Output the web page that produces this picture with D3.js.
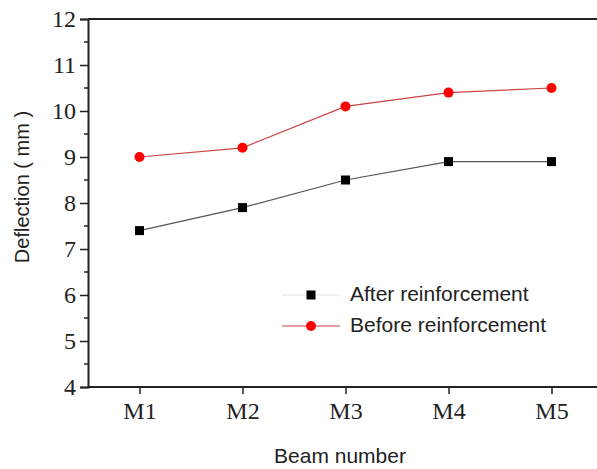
<!DOCTYPE html>
<html>
<head>
<meta charset="utf-8">
<script src="https://cdn.jsdelivr.net/npm/d3@7"></script>
<style>
  body { margin: 0; background: #fff; }
</style>
</head>
<body>
<div id="chart"></div>
<script>
// Chart values
const beams = ["M1", "M2", "M3", "M4", "M5"];
const afterValues = [7.4, 7.9, 8.5, 8.9, 8.9];
const beforeValues = [9.0, 9.2, 10.1, 10.4, 10.5];
const yTicks = [4, 5, 6, 7, 8, 9, 10, 11, 12];
const seriesNames = ["After reinforcement", "Before reinforcement"];

const W = 597, H = 469;
const margin = { top: 19, right: -6, bottom: 82, left: 88 };

const svg = d3.select("#chart")
  .append("svg")
  .attr("width", W)
  .attr("height", H);

// plot area runs a little past the right edge of the picture
const x = d3.scalePoint()
  .domain(beams)
  .range([margin.left, W - margin.right])
  .padding(0.5);

const y = d3.scaleLinear()
  .domain([4, 12])
  .range([H - margin.bottom, margin.top]);

const axisColor = "#222";

// top frame line
svg.append("line")
  .attr("x1", margin.left).attr("x2", W)
  .attr("y1", y(12)).attr("y2", y(12))
  .attr("stroke", axisColor).attr("stroke-width", 2);

// y axis
const yAxis = svg.append("g")
  .attr("transform", `translate(${margin.left},0)`)
  .call(d3.axisLeft(y).tickValues(yTicks).tickSize(8).tickPadding(4).tickFormat(d3.format("d")));

// minor ticks on y
svg.append("g")
  .selectAll("line")
  .data(yTicks.slice(0, -1).map(d => d + 0.5))
  .join("line")
  .attr("x1", margin.left - 4).attr("x2", margin.left)
  .attr("y1", d => y(d)).attr("y2", d => y(d))
  .attr("stroke", axisColor).attr("stroke-width", 1.5);

// x axis
const xAxis = svg.append("g")
  .attr("transform", `translate(0,${y(4)})`)
  .call(d3.axisBottom(x).tickSize(7).tickPadding(8).tickSizeOuter(0));

xAxis.select(".domain").attr("d", `M${margin.left},0H${W}`);

[yAxis, xAxis].forEach(g => {
  g.attr("font-family", null).attr("font-size", null);
  g.select(".domain").attr("stroke", axisColor).attr("stroke-width", 2);
  g.selectAll(".tick line").attr("stroke", axisColor).attr("stroke-width", 1.5);
  g.selectAll(".tick text")
    .attr("fill", "#222")
    .style("font-family", "'Liberation Serif', 'Times New Roman', serif")
    .style("font-size", "24px");
});

// lines
const line = d3.line()
  .x((d, i) => x(beams[i]))
  .y(d => y(d));

svg.append("path")
  .datum(beforeValues)
  .attr("fill", "none")
  .attr("stroke", "#cc4444")
  .attr("stroke-width", 1.2)
  .attr("d", line);

svg.append("path")
  .datum(afterValues)
  .attr("fill", "none")
  .attr("stroke", "#555")
  .attr("stroke-width", 1.2)
  .attr("d", line);

// markers
svg.append("g")
  .selectAll("circle")
  .data(beforeValues)
  .join("circle")
  .attr("cx", (d, i) => x(beams[i]))
  .attr("cy", d => y(d))
  .attr("r", 5)
  .attr("fill", "#ff0000");

svg.append("g")
  .selectAll("rect")
  .data(afterValues)
  .join("rect")
  .attr("x", (d, i) => x(beams[i]) - 4.5)
  .attr("y", d => y(d) - 4.5)
  .attr("width", 9)
  .attr("height", 9)
  .attr("fill", "#000");

// legend
const legend = svg.append("g").attr("transform", "translate(282,295)");
const rowGap = 31;

legend.append("line")
  .attr("x1", 0).attr("x2", 58).attr("y1", 0).attr("y2", 0)
  .attr("stroke", "#e2e2e2").attr("stroke-width", 1.2);
legend.append("rect")
  .attr("x", 29 - 4.5).attr("y", -4.5).attr("width", 9).attr("height", 9)
  .attr("fill", "#000");

legend.append("line")
  .attr("x1", 0).attr("x2", 58).attr("y1", rowGap).attr("y2", rowGap)
  .attr("stroke", "#cc4444").attr("stroke-width", 1.2);
legend.append("circle")
  .attr("cx", 29).attr("cy", rowGap).attr("r", 5)
  .attr("fill", "#ff0000");

legend.selectAll("text")
  .data(seriesNames)
  .join("text")
  .attr("x", 68)
  .attr("y", (d, i) => i * rowGap + 6)
  .style("font-family", "'Liberation Sans', Arial, sans-serif")
  .style("font-size", "21px")
  .attr("fill", "#222")
  .text(d => d);

// axis labels
svg.append("text")
  .attr("x", 340)
  .attr("y", 463)
  .attr("text-anchor", "middle")
  .style("font-family", "'Liberation Sans', Arial, sans-serif")
  .style("font-size", "21px")
  .attr("fill", "#222")
  .text("Beam number");

svg.append("text")
  .attr("transform", "rotate(-90)")
  .attr("x", -187)
  .attr("y", 29)
  .attr("text-anchor", "middle")
  .style("font-family", "'Liberation Sans', Arial, sans-serif")
  .style("font-size", "20px")
  .attr("fill", "#222")
  .text("Deflection ( mm )");
</script>
</body>
</html>
